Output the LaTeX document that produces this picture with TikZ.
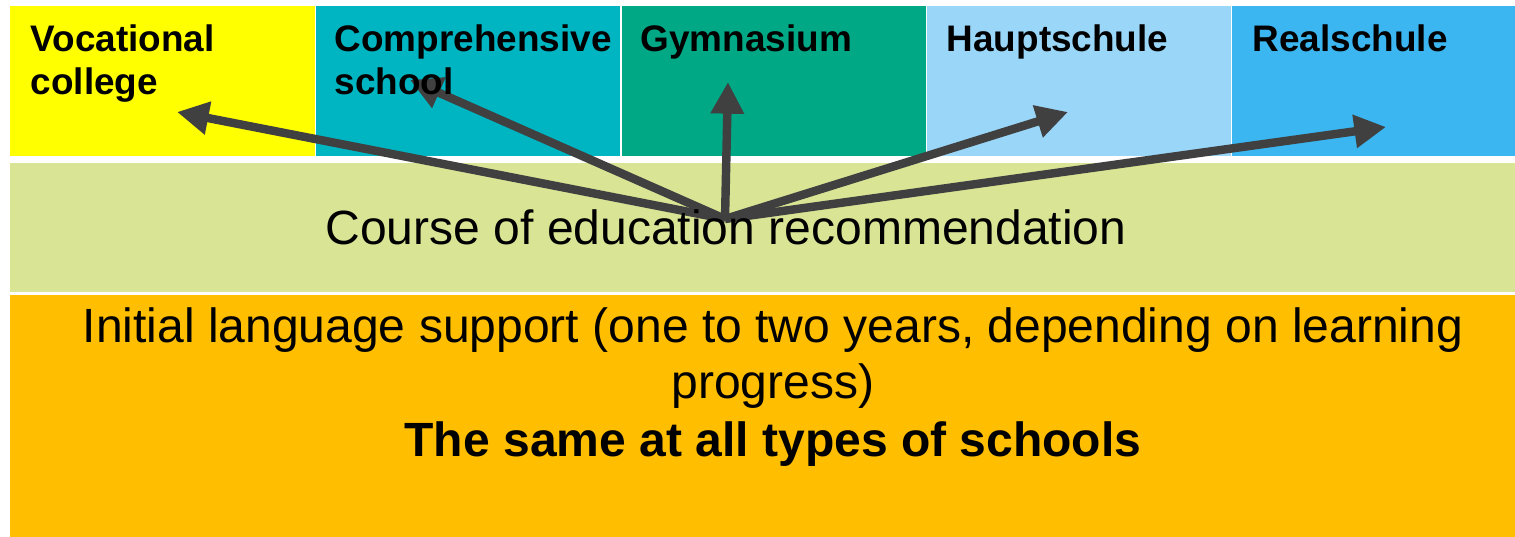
\documentclass[tikz,border=0pt]{standalone}
\usepackage{fontspec}
\setmainfont{Liberation Sans}
\usetikzlibrary{arrows.meta}

\definecolor{vocational yellow}{RGB}{255,255,0}
\definecolor{comprehensive teal}{RGB}{0,181,194}
\definecolor{gymnasium green}{RGB}{0,168,133}
\definecolor{hauptschule blue}{RGB}{153,214,248}
\definecolor{realschule blue}{RGB}{59,182,240}
\definecolor{recommendation green}{RGB}{217,228,149}
\definecolor{support orange}{RGB}{255,190,0}
\definecolor{pointer gray}{RGB}{64,64,64}

\begin{document}
\begin{tikzpicture}[x=0.01cm, y=-0.01cm,
  school label/.style={anchor=base west, inner sep=0pt, font=\fontsize{10.5pt}{12.2pt}\selectfont\bfseries},
  band text/.style={anchor=base, inner sep=0pt, font=\fontsize{13.66pt}{15.6pt}\selectfont},
  pointer/.style={draw=pointer gray, line width=2.4pt, -{Triangle[length=9pt, width=9pt]}}]
\useasboundingbox (0,0) rectangle (1515,537);

% school types
\fill[vocational yellow] (10,6) rectangle (315,156);
\fill[comprehensive teal] (316,6) rectangle (620,156);
\fill[gymnasium green] (622,6) rectangle (926,156);
\fill[hauptschule blue] (927,6) rectangle (1231,156);
\fill[realschule blue] (1232,6) rectangle (1515,156);

% bands
\fill[recommendation green] (10,163) rectangle (1515,292);
\fill[support orange] (10,295) rectangle (1515,537);

% arrows from the recommendation
\coordinate (recommendation hub) at (725,219);
\coordinate (vocational tip) at (177,112);
\coordinate (comprehensive tip) at (410,80);
\coordinate (gymnasium tip) at (728,82);
\coordinate (hauptschule tip) at (1068,112);
\coordinate (realschule tip) at (1386,127);

\draw[pointer] (recommendation hub) -- (vocational tip);
\draw[pointer] (recommendation hub) -- (comprehensive tip);
\draw[pointer] (recommendation hub) -- (gymnasium tip);
\draw[pointer] (recommendation hub) -- (hauptschule tip);
\draw[pointer] (recommendation hub) -- (realschule tip);

\node[school label] (vocational college) at (30,52) {\begin{tabular}[t]{@{}l@{}}
Vocational \\
college
\end{tabular}};

\node[school label] (comprehensive school) at (334,52) {\begin{tabular}[t]{@{}l@{}}
Comprehensive \\
school
\end{tabular}};

\node[school label] (gymnasium) at (640,52) {Gymnasium};
\node[school label] (hauptschule) at (946,52) {Hauptschule};
\node[school label] (realschule) at (1252,52) {Realschule};

\node[band text] (recommendation) at (726,245) {Course of education recommendation};

\node[band text] (language support) at (773,343) {\fontsize{13.66pt}{15.65pt}\selectfont\begin{tabular}[t]{@{}c@{}}
Initial language support (one to two years, depending on learning \\
progress)
\end{tabular}};

\node[band text, font=\fontsize{13.66pt}{15.6pt}\selectfont\bfseries] (same everywhere) at (773,457) {The same at all types of schools};
\end{tikzpicture}
\end{document}
